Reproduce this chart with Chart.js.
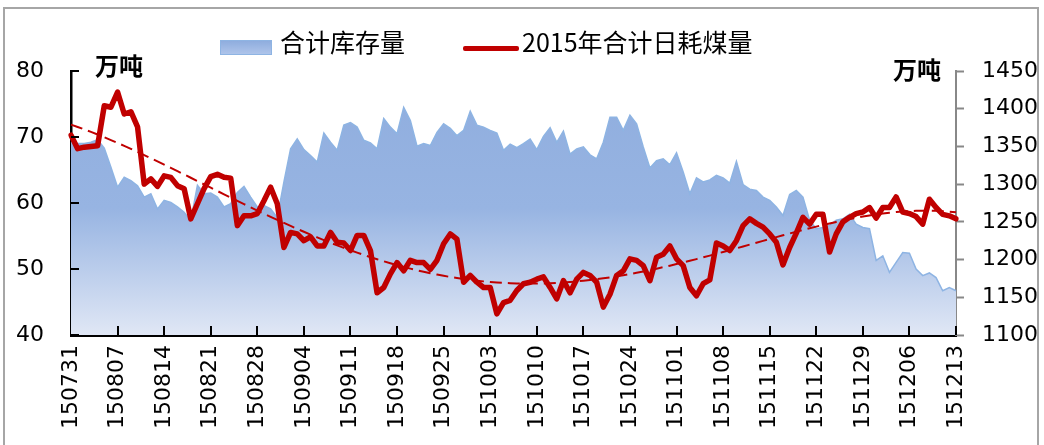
<!DOCTYPE html>
<html>
<head>
<meta charset="utf-8">
<script src="https://cdn.jsdelivr.net/npm/chart.js@4/dist/chart.umd.min.js"></script>
<style>
  html,body{margin:0;padding:0;background:#fff;}
  #wrap{position:relative;width:1044px;height:445px;overflow:hidden;}
  #frame{position:absolute;left:3px;top:7px;width:1036px;height:460px;border:2px solid #a6a6a6;box-sizing:border-box;}
  canvas{position:absolute;left:0;top:0;}
  .t{position:absolute;font-family:"Noto Sans CJK SC","Noto Sans",sans-serif;color:#000;white-space:nowrap;}
  .lg{font-size:25px;line-height:25px;height:25px;}
  .unit{font-size:24px;line-height:24px;font-weight:bold;}
</style>
</head>
<body>
<div id="wrap">
  <canvas id="c" width="1044" height="445"></canvas>
  <div id="frame"></div>
  <div style="position:absolute;left:220px;top:40px;width:52px;height:15px;box-sizing:border-box;border:1px solid #8eb4e3;background:linear-gradient(#8fadde,#aec4ea);"></div>
  <div class="t lg" style="left:280px;top:29px;">合计库存量</div>
  <div style="position:absolute;left:463px;top:46px;width:56px;height:5px;background:#C00000;border-radius:2px;"></div>
  <div class="t lg" style="left:522px;top:29px;">2015年合计日耗煤量</div>
  <div class="t unit" style="left:95px;top:53px;">万吨</div>
  <div class="t unit" style="left:893px;top:57px;">万吨</div>
</div>
<script>
const categories = [
'150731',
'150801','150802','150803','150804','150805','150806','150807','150808','150809','150810',
'150811','150812','150813','150814','150815','150816','150817','150818','150819','150820',
'150821','150822','150823','150824','150825','150826','150827','150828','150829','150830','150831',
'150901','150902','150903','150904','150905','150906','150907','150908','150909','150910',
'150911','150912','150913','150914','150915','150916','150917','150918','150919','150920',
'150921','150922','150923','150924','150925','150926','150927','150928','150929','150930',
'151002','151003','151004','151005','151006','151007','151008','151009','151010',
'151011','151012','151013','151014','151015','151016','151017','151018','151019','151020',
'151021','151022','151023','151024','151025','151026','151027','151028','151029','151030',
'151101','151102','151103','151104','151105','151106','151107','151108','151109','151110',
'151111','151112','151113','151114','151115','151116','151117','151118','151119','151120',
'151121','151122','151123','151124','151125','151126','151127','151128','151129','151130',
'151201','151202','151203','151204','151205','151206','151207','151208','151209','151210',
'151211','151212','151213'
];

// 合计库存量 (万吨, left axis)
const stock = [
69.3,69.0,69.0,69.2,69.6,68.3,65.4,62.4,63.9,63.4,
62.6,60.9,61.4,59.1,60.4,60.1,59.4,58.6,57.3,62.7,
61.4,61.5,60.9,59.4,59.9,61.6,62.5,60.9,59.4,59.6,
59.1,57.8,63.2,68.2,69.7,68.1,67.2,66.2,70.6,69.2,
68.0,71.8,72.2,71.5,69.5,69.1,68.2,72.8,71.5,70.5,
74.5,72.5,68.6,69.0,68.7,70.7,72.0,71.3,70.2,71.0,
73.9,71.8,71.5,71.0,70.6,68.0,68.9,68.4,69.0,69.7,
68.1,70.1,71.4,69.2,70.9,67.4,68.2,68.5,67.3,66.7,
69.2,73.0,73.0,71.0,73.3,72.0,68.5,65.3,66.4,66.7,
65.8,67.6,64.7,61.4,63.8,63.2,63.5,64.2,63.8,63.0,
66.3,62.8,62.1,61.9,60.9,60.4,59.4,58.1,61.3,61.9,
60.9,57.4,56.1,56.3,56.6,57.4,57.6,58.3,56.8,56.3,
56.1,51.3,52.0,49.5,51.0,52.5,52.4,50.0,49.0,49.4,
48.7,46.7,47.2,46.7
];

// 2015年合计日耗煤量 (万吨, right axis)
const consumption = [
1365,1347,1349,1350,1351,1404,1402,1422,1393,1396,
1376,1300,1307,1297,1311,1309,1298,1294,1254,1274,
1294,1310,1313,1309,1308,1245,1258,1258,1261,1278,
1296,1274,1216,1236,1234,1225,1230,1218,1218,1236,
1223,1222,1212,1232,1232,1212,1156,1163,1181,1196,
1185,1199,1196,1196,1187,1199,1221,1234,1227,1170,
1179,1170,1163,1163,1128,1143,1146,1159,1168,1170,
1174,1177,1163,1148,1172,1156,1174,1183,1179,1170,
1137,1154,1179,1185,1201,1199,1192,1172,1203,1207,
1218,1201,1192,1163,1152,1168,1173,1222,1218,1212,
1225,1245,1254,1248,1243,1234,1223,1193,1216,1235,
1256,1247,1260,1260,1210,1234,1250,1256,1261,1263,
1269,1255,1269,1269,1283,1263,1261,1257,1247,1280,
1269,1260,1258,1254
];

const leftAxis = {min:40, max:80, step:10};
const rightAxis = {min:1100, max:1450, step:50};
const labelEvery = 7;
const trendOrder = 4;

// least-squares polynomial trendline of the consumption series
function polyFit(ys, deg){
  const n = ys.length, m = deg + 1;
  const A = Array.from({length:m}, () => new Array(m+1).fill(0));
  for (let i = 0; i < n; i++){
    const t = i/(n-1);
    const p = [];
    for (let k = 0; k < 2*m; k++) p.push(Math.pow(t,k));
    for (let r = 0; r < m; r++){
      for (let c = 0; c < m; c++) A[r][c] += p[r+c];
      A[r][m] += ys[i]*p[r];
    }
  }
  for (let col = 0; col < m; col++){
    let piv = col;
    for (let r = col+1; r < m; r++) if (Math.abs(A[r][col]) > Math.abs(A[piv][col])) piv = r;
    [A[col], A[piv]] = [A[piv], A[col]];
    for (let r = 0; r < m; r++){
      if (r === col) continue;
      const f = A[r][col]/A[col][col];
      for (let c = col; c <= m; c++) A[r][c] -= f*A[col][c];
    }
  }
  const coef = A.map((row,i) => row[m]/row[i]);
  return ys.map((_,i) => { const t = i/(n-1); return coef.reduce((s,c,k)=>s+c*Math.pow(t,k),0); });
}
const trend = polyFit(consumption, trendOrder);

const TICK_FONT = {family:'"DejaVu Sans", sans-serif', size:22};

const axisTicks = {
  id:'axisTicks',
  afterDraw(chart){
    const {ctx, chartArea:ca, scales:{x, y}} = chart;
    ctx.save();
    ctx.strokeStyle = '#000';
    ctx.lineWidth = 2;
    ctx.beginPath();
    y.ticks.forEach((t,k) => { const py = Math.round(y.getPixelForTick(k)); ctx.moveTo(ca.left, py); ctx.lineTo(ca.left+8, py); });
    for (let i = labelEvery; i < categories.length; i += labelEvery){
      const px = Math.round(x.getPixelForValue(i));
      ctx.moveTo(px, ca.bottom); ctx.lineTo(px, ca.bottom-9);
    }
    ctx.stroke();
    ctx.restore();
  }
};

function areaGradient(context){
  const ca = context.chart.chartArea;
  if (!ca) return '#95b3e1';
  const g = context.chart.ctx.createLinearGradient(0, ca.top, 0, ca.bottom);
  g.addColorStop(0, '#8fadde');
  g.addColorStop(0.52, '#97b4e2');
  g.addColorStop(1, '#e0e7f5');
  return g;
}

new Chart(document.getElementById('c'), {
  data: {
    labels: categories,
    datasets: [
      {
        type:'line', label:'合计库存量', data: stock, yAxisID:'y',
        fill:'start', backgroundColor: areaGradient,
        borderColor:'#8eb4e3', borderWidth:1.5, pointRadius:0, tension:0, order:3
      },
      {
        type:'line', label:'2015年合计日耗煤量', data: consumption, yAxisID:'y1',
        fill:false, borderColor:'#C00000', borderWidth:5.5, pointRadius:0, tension:0,
        borderJoinStyle:'round', borderCapStyle:'round', order:2
      },
      {
        type:'line', label:'趋势', data: trend, yAxisID:'y1',
        fill:false, borderColor:'#C00000', borderWidth:2, borderDash:[12,6],
        pointRadius:0, tension:0, order:1
      }
    ]
  },
  options: {
    responsive:false, animation:false, devicePixelRatio:1,
    layout:{padding:{top:71, left:0, right:0, bottom:0}},
    plugins:{legend:{display:false}, tooltip:{enabled:false}},
    scales:{
      x:{
        type:'category', offset:false, z:1,
        grid:{display:false, drawTicks:false},
        border:{display:true, color:'#000', width:3},
        ticks:{
          autoSkip:false, maxRotation:90, minRotation:90, padding:10,
          color:'#000', font:TICK_FONT,
          callback:(v,i) => i % labelEvery === 0 ? categories[i] : null
        },
        afterFit:(s) => { s.height = 110; }
      },
      y:{
        position:'left', min:leftAxis.min, max:leftAxis.max, z:1,
        grid:{display:false, drawTicks:false},
        border:{display:true, color:'#000', width:2.5},
        ticks:{stepSize:leftAxis.step, padding:27, color:'#000', font:TICK_FONT, callback:(v) => String(v)},
        afterFit:(s) => { s.width = 71; }
      },
      y1:{
        position:'right', min:rightAxis.min, max:rightAxis.max, z:1,
        grid:{display:true, drawOnChartArea:false, drawTicks:true, tickLength:8, tickColor:'#888', tickWidth:2},
        border:{display:true, color:'#888', width:2},
        ticks:{stepSize:rightAxis.step, padding:18, color:'#000', font:TICK_FONT, callback:(v) => String(v)},
        afterFit:(s) => { s.width = 88; }
      }
    }
  },
  plugins:[axisTicks]
});
</script>
</body>
</html>
